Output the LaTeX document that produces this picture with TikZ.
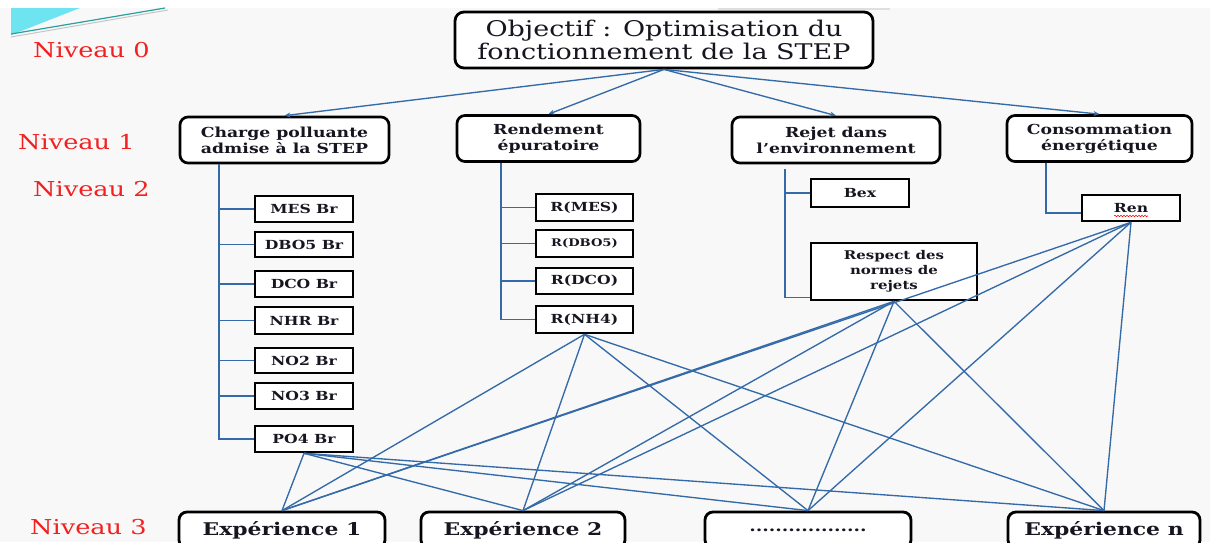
\documentclass[tikz,border=0pt]{standalone}
\usepackage{fontspec}
\setmainfont{DejaVu Serif}[FakeStretch=1.25]
\usetikzlibrary{arrows.meta,calc,decorations.pathmorphing}
\definecolor{linkblue}{RGB}{52,106,168}
\definecolor{lvlred}{RGB}{242,32,32}
\definecolor{bgcol}{RGB}{248,248,248}
\definecolor{decocyan}{RGB}{110,228,240}
\definecolor{decoteal}{RGB}{40,160,160}
\definecolor{txtcol}{RGB}{22,22,32}
\begin{document}
\begin{tikzpicture}[x=1pt,y=-1pt,
  lvl/.style={text=lvlred, font=\fontsize{20.5}{24}\selectfont, anchor=west, inner sep=0pt},
  topbox/.style={draw, line width=2.8pt, rounded corners=9pt, fill=white, minimum width=418pt, minimum height=56pt, inner sep=0pt, align=center, text=txtcol, font=\fontsize{21.6}{23}\selectfont},
  onebox/.style={draw, line width=2.7pt, rounded corners=8pt, fill=white, minimum height=46pt, inner sep=0pt, align=center, text=txtcol, font=\fontsize{13.8}{16}\selectfont\bfseries},
  twobox/.style={draw, line width=2.6pt, fill=white, minimum width=98pt, minimum height=26pt, inner sep=0pt, align=center, text=txtcol, font=\fontsize{12.5}{15}\selectfont\bfseries},
  expbox/.style={draw, line width=2.8pt, rounded corners=8pt, fill=white, minimum height=36pt, inner sep=0pt, align=center, text=txtcol, font=\fontsize{17.5}{20}\selectfont\bfseries},
  link/.style={draw=linkblue, line width=1.35pt},
  arr/.style={link, -{Stealth[length=6pt,width=5pt]}},
]
% background
\fill[white] (0,0) rectangle (1210,542);
\fill[bgcol] (0,8) rectangle (1210,542);
\useasboundingbox (0,0) rectangle (1210,542);
\fill[decocyan] (11,8) -- (80,8) -- (11,35) -- cycle;
\draw[gray!45, line width=1pt] (11,37) -- (168,10);
\draw[decoteal, line width=1.2pt] (11,34) -- (165,8);
\draw[gray!25, line width=1.5pt] (718,9) -- (890,9);

% level labels
\node[lvl] (n0) at (33,50) {Niveau 0};
\node[lvl] (n1) at (18,142) {Niveau 1};
\node[lvl] (n2) at (33,189) {Niveau 2};
\node[lvl] (n3) at (30,527) {Niveau 3};

% level 0
\node[topbox] (top) at (664,40) {Objectif : Optimisation du\\fonctionnement de la STEP};

% level 1
\node[onebox, minimum width=209pt] (b1) at (284.5,140) {Charge polluante\\admise à la STEP};
\node[onebox, minimum width=183pt] (b2) at (548.5,138.5) {Rendement\\épuratoire};
\node[onebox, minimum width=208pt] (b3) at (836,140) {Rejet dans\\l’environnement};
\node[onebox, minimum width=185pt] (b4) at (1099.5,138.5) {Consommation\\énergétique};

% level 2 - column 1
\node[twobox] (mes) at (304,209) {MES Br};
\node[twobox, minimum height=25pt] (dbo) at (304,244.5) {DBO5 Br};
\node[twobox] (dco) at (304,284) {DCO Br};
\node[twobox, minimum height=27pt] (nhr) at (304,320.5) {NHR Br};
\node[twobox, minimum height=25pt] (notwo) at (304,360.5) {NO2 Br};
\node[twobox] (nothree) at (304,396) {NO3 Br};
\node[twobox] (po4) at (304,439) {PO4 Br};

% level 2 - column 2
\node[twobox, minimum width=97pt, minimum height=27pt] (rmes) at (584.5,207.5) {R(MES)};
\node[twobox, minimum width=97pt, minimum height=27pt, font=\fontsize{10.5}{12}\selectfont\bfseries] (rdbo) at (584.5,243.5) {R(DBO5)};
\node[twobox, minimum width=97pt] (rdco) at (584.5,281) {R(DCO)};
\node[twobox, minimum width=97pt, minimum height=27pt] (rnh) at (584.5,319.5) {R(NH4)};

% level 2 - column 3
\node[twobox, minimum height=28pt] (bex) at (860,193) {Bex};
\node[twobox, minimum width=166pt, minimum height=57pt, font=\fontsize{12}{15}\selectfont\bfseries] (resp) at (894,271.5) {Respect des\\normes de\\rejets};

% level 2 - column 4
\node[twobox] (ren) at (1131,208) {Ren};
\draw[red, line width=0.6pt, decorate, decoration={snake, amplitude=0.7pt, segment length=3pt}] ($(ren.center)+(-17,8)$) -- ($(ren.center)+(17,8)$);

% level 3
\node[expbox, minimum width=206pt] (e1) at (282,530) {Expérience 1};
\node[expbox, minimum width=204pt] (e2) at (523,530) {Expérience 2};
\node[expbox, minimum width=206pt, font=\fontsize{15}{18}\selectfont\bfseries] (e3) at (808,530) {..................};
\node[expbox, minimum width=192pt] (e4) at (1104,530) {Expérience n};

% arrows level 0 -> level 1
\foreach \b in {b1,b2,b3,b4} \draw[arr] (top.south) -- (\b.north);

% trunks
\coordinate (t1) at (219,0);
\coordinate (t2) at (501,0);
\coordinate (t3) at (785,0);
\coordinate (t4) at (1046,0);
\draw[link] (b1.south -| t1) |- (po4.west);
\foreach \n in {mes,dbo,dco,nhr,notwo,nothree} \draw[link] (t1 |- \n.west) -- (\n.west);
\draw[link] (b2.south -| t2) |- (rnh.west);
\foreach \n in {rmes,rdbo,rdco} \draw[link] (t2 |- \n.west) -- (\n.west);
\draw[link] ($(b3.south -| t3)+(0,5)$) |- ($(resp.south west)+(0,-4)$);
\draw[link] (t3 |- bex.west) -- (bex.west);
\draw[link] (b4.south -| t4) |- ($(ren.west)+(0,5)$);

% level 2 -> level 3
\foreach \s in {po4,rnh,resp,ren}{
  \foreach \e in {e1,e2,e3,e4}{
    \draw[link] (\s.south) -- (\e.north);
  }
}
\end{tikzpicture}
\end{document}
